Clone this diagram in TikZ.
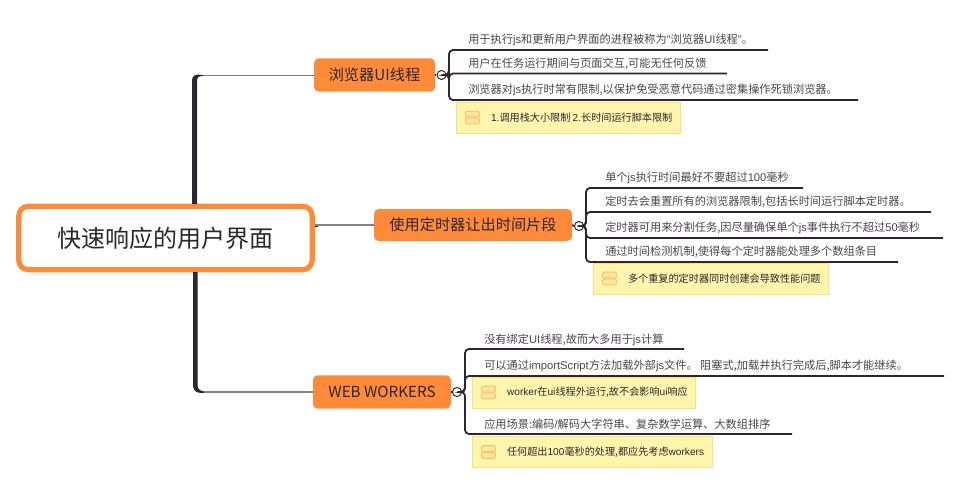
\documentclass[tikz,border=0pt]{standalone}
\usepackage{fontspec}
\setmainfont{Noto Sans CJK SC}
\newfontfamily\latinfont{Liberation Sans}
\usetikzlibrary{positioning}

\definecolor{mapink}{HTML}{2D2630}
\definecolor{mapgrey}{HTML}{86808A}
\definecolor{leafink}{HTML}{4A444E}
\definecolor{maporange}{HTML}{FF8B3A}
\definecolor{notefill}{HTML}{FFF5AD}
\definecolor{noteedge}{HTML}{F8DF80}
\definecolor{baredge}{HTML}{F9C353}
\definecolor{barfill}{HTML}{FFE3A8}

\tikzset{x=0.75pt,y=-0.75pt,
  rootnode/.style={draw=maporange,line width=3.9pt,fill=white,rounded corners=7pt,
    minimum width=220pt,minimum height=47.5pt,text=mapink,
    font=\fontsize{18}{22}\selectfont},
  branch/.style={fill=maporange,rounded corners=3.5pt,inner sep=0pt,minimum height=25pt,
    text=mapink,font=\fontsize{11.4}{14}\selectfont},
  leaf/.style={anchor=west,inner sep=0pt,text=leafink,text height=8pt,text depth=1pt,
    font=\fontsize{8.4}{10}\selectfont},
  note/.style={anchor=west,draw=noteedge,line width=0.6pt,fill=notefill,inner sep=0pt,
    minimum height=23.25pt,text=mapink,font=\fontsize{7.6}{10}\selectfont},
  notebar/.style={draw=baredge,line width=0.7pt,fill=barfill,rounded corners=1pt,
    inner sep=0pt,minimum width=10.5pt,minimum height=4.4pt},
  hub/.style={circle,draw=mapink,line width=0.75pt,fill=white,inner sep=0pt,minimum size=6.8pt,
    path picture={\draw[mapgrey,line width=0.5pt]
      ([xshift=-1.6pt]path picture bounding box.center) --
      ([xshift=1.6pt]path picture bounding box.center);}},
  trunk/.style={fill=mapink,draw=none},
  spoke/.style={draw=mapgrey,line width=1.2pt},
  leafline/.style={draw=mapink,line width=1.35pt,rounded corners=3pt}}

\newcommand{\notetext}[1]{\hspace*{26pt}#1\hspace*{6pt}}
\newcommand{\la}[1]{{\latinfont #1}}

\begin{document}
\begin{tikzpicture}
  \useasboundingbox (0,0) rectangle (962,490);

  % centre and the three topics
  \node [rootnode] (root) at (165.5,238) {快速响应的用户界面};
  \node [branch,minimum width=90.75pt] (browser) at (374.5,75) {浏览器UI线程};
  \node [branch,minimum width=148.5pt,minimum height=24pt] (timer) at (473,225) {使用定时器让出时间片段};
  \node [branch,minimum width=103.5pt] (workers) at (382,392) {WEB WORKERS};

  \node [hub] (hubA) at (441.5,75) {};
  \node [hub] (hubB) at (579,226) {};
  \node [hub] (hubC) at (457,392) {};

  % trunk out of the root
  \coordinate (bendA) at (203,75.5);
  \coordinate (bendC) at (204,392);
  \fill [trunk] (192,204) -- (192,81) .. controls (192,77) and (194,74.6) .. (198,74.6)
    -- (203,75) -- (203,76) .. controls (199,76) and (197,77) .. (197,81) -- (197,204) -- cycle;
  \fill [trunk] (193,272) -- (193,385) .. controls (193,390) and (196,392.8) .. (200,392.8)
    -- (204,392.8) -- (204,391.4) .. controls (200,391) and (197.5,389) .. (197.5,385) -- (197.5,272) -- cycle;
  \fill [trunk] (315,224) -- (323,224.6) -- (315,227.5) -- cycle;

  \draw [spoke] (bendA) -- (bendA -| browser.west);
  \draw [spoke] (bendC) -- (workers.west |- bendC);
  \draw [spoke] (root.east |- timer.west) -- (timer.west);

  \draw [leafline] (browser.east) -- (hubA.west);
  \draw [leafline] (timer.east) -- (hubB.west);
  \draw [leafline] (workers.east) -- (hubC.west);

  % notes
  \node [note] (noteA) at (456,117.5) {\notetext{\la{1.}调用栈大小限制 \la{2.}长时间运行脚本限制}};
  \node [note] (noteB) at (593,278.5) {\notetext{多个重复的定时器同时创建会导致性能问题}};
  \node [note] (noteC) at (472,392.5) {\notetext{\la{worker}在\la{ui}线程外运行,故不会影响\la{ui}响应}};
  \node [note] (noteD) at (472,452) {\notetext{任何超出\la{100}毫秒的处理,都应先考虑\la{workers}}};

  \foreach \n in {noteA,noteB,noteC,noteD} {
    \node [notebar] at ([shift={(16.5,-3.4)}]\n.west) {};
    \node [notebar] at ([shift={(16.5,3.4)}]\n.west) {};
  }

  % first topic
  \node [leaf] (leafAa) at (468,39) {用于执行\la{js}和更新用户界面的进程被称为\la{"}浏览器\la{UI}线程\la{"}。};
  \node [leaf] (leafAb) at (468,63) {用户在任务运行期间与页面交互,可能无任何反馈};
  \node [leaf] (leafAc) at (468,89) {浏览器对\la{js}执行时常有限制,以保护免受恶意代码通过密集操作死锁浏览器。};

  \coordinate (endAa) at (768,50);
  \coordinate (endAb) at (727,73.5);
  \coordinate (endAc) at (858,100);
  \draw [leafline] (hubA.east) -- (449,75) |- (endAa);
  \draw [leafline] (hubA.east) -- (449,75) |- (endAb);
  \draw [leafline] (hubA.east) -- (449,75) |- (endAc);

  % second topic
  \node [leaf] (leafBa) at (605,177) {单个\la{js}执行时间最好不要超过\la{100}毫秒};
  \node [leaf] (leafBb) at (605,201) {定时去会重置所有的浏览器限制,包括长时间运行脚本定时器。};
  \node [leaf] (leafBc) at (605,227) {定时器可用来分割任务,因尽量确保单个\la{js}事件执行不超过\la{50}毫秒};
  \node [leaf] (leafBd) at (605,251) {通过时间检测机制,使得每个定时器能处理多个数组条目};

  \coordinate (endBa) at (803,188);
  \coordinate (endBb) at (931,212);
  \coordinate (endBc) at (943,238);
  \coordinate (endBd) at (898,262);
  \draw [leafline] (hubB.east) -- (586,226) |- (endBa);
  \draw [leafline] (hubB.east) -- (586,226) |- (endBb);
  \draw [leafline] (hubB.east) -- (586,226) |- (endBc);
  \draw [leafline] (hubB.east) -- (586,226) |- (endBd);

  % third topic
  \node [leaf] (leafCa) at (484,339) {没有绑定\la{UI}线程,故而大多用于\la{js}计算};
  \node [leaf] (leafCb) at (484,365) {可以通过\la{importScript}方法加载外部\la{js}文件。 阻塞式,加载并执行完成后,脚本才能继续。};
  \node [leaf] (leafCc) at (484,424) {应用场景:编码\la{/}解码大字符串、复杂数学运算、大数组排序};

  \coordinate (endCa) at (684,349);
  \coordinate (endCb) at (944,376);
  \coordinate (endCc) at (792,434);
  \draw [leafline] (hubC.east) -- (465,392) |- (endCa);
  \draw [leafline] (hubC.east) -- (465,392) |- (endCb);
  \draw [leafline] (hubC.east) -- (465,392) |- (endCc);

\end{tikzpicture}
\end{document}
